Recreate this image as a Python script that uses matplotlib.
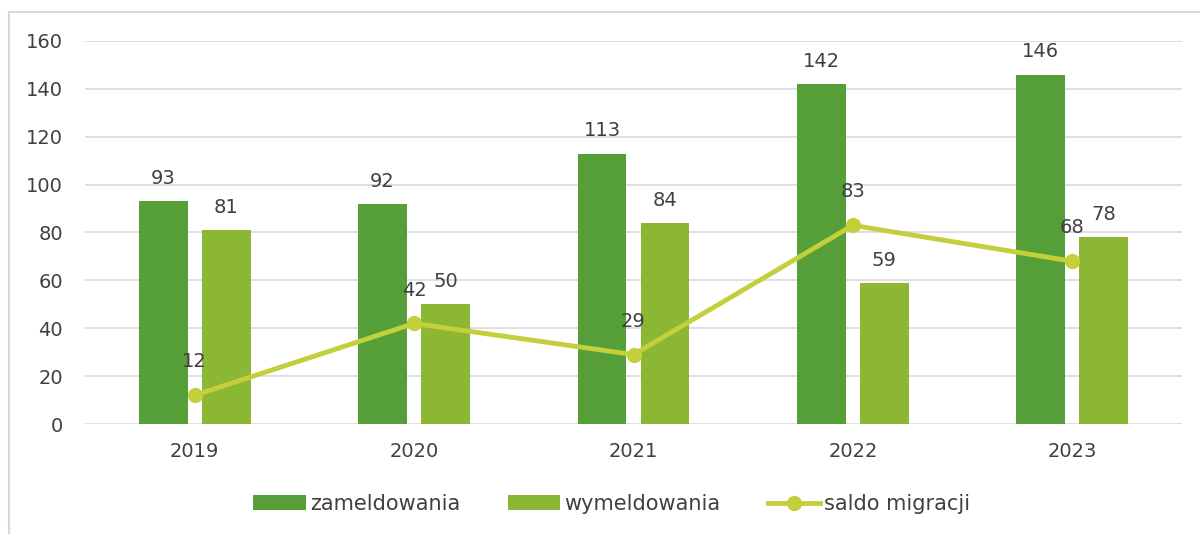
import matplotlib.pyplot as plt
import numpy as np
from matplotlib.lines import Line2D

years = ["2019", "2020", "2021", "2022", "2023"]
zameldowania = [93, 92, 113, 142, 146]
wymeldowania = [81, 50, 84, 59, 78]
saldo = [12, 42, 29, 83, 68]

dark = "#559e38"
light = "#8bb734"
line_col = "#c3d03c"
txt = "#404040"

plt.rcParams['font.family'] = ['DejaVu Sans']

fig = plt.figure(figsize=(12, 5.34), dpi=100)
ax = fig.add_axes([85/1200, 1 - 424/534, (1182-85)/1200, (424-41)/534])

x = np.arange(len(years))
w = 0.223
off = 0.1435
b1 = ax.bar(x - off, zameldowania, w, color=dark, label="zameldowania", zorder=2)
b2 = ax.bar(x + off, wymeldowania, w, color=light, label="wymeldowania", zorder=2)
ln, = ax.plot(x, saldo, color=line_col, lw=3.5, marker="o", ms=10,
              label="saldo migracji", zorder=3)

for xi, v in zip(x - off, zameldowania):
    ax.text(xi, v + 5.5, str(v), ha="center", va="bottom", fontsize=14, color=txt)
for xi, v in zip(x + off, wymeldowania):
    ax.text(xi, v + 5.5, str(v), ha="center", va="bottom", fontsize=14, color=txt)
for xi, v in zip(x, saldo):
    ax.text(xi, v + 10, str(v), ha="center", va="bottom", fontsize=14, color=txt, zorder=4)

ax.set_xlim(-0.5, len(years) - 0.5)
ax.set_ylim(0, 160)
ax.set_yticks(range(0, 161, 20))
ax.set_xticks(x)
ax.set_xticklabels(years)
ax.tick_params(length=0, labelsize=14, colors=txt)
ax.tick_params(axis="y", pad=16)
ax.tick_params(axis="x", pad=13)
ax.grid(axis="y", color="#d9d9d9", lw=1.2, zorder=0)
ax.set_axisbelow(True)
for s in ax.spines.values():
    s.set_visible(False)

leg = fig.legend(handles=[b1, b2, ln], loc="center", bbox_to_anchor=(0.51, 1 - 504/534),
                 ncol=3, frameon=False, fontsize=15, handlelength=2.5, handleheight=0.7,
                 columnspacing=2.3, handletextpad=0.2)
for t in leg.get_texts():
    t.set_color(txt)

# frame: only left and top edges are visible
fig.add_artist(Line2D([8.5/1200, 8.5/1200], [0, 1 - 12/534], transform=fig.transFigure,
                      color="#d9d9d9", lw=1.5))
fig.add_artist(Line2D([8.5/1200, 1], [1 - 12/534, 1 - 12/534], transform=fig.transFigure,
                      color="#d9d9d9", lw=1.5))

fig.savefig("out.png", dpi=100)
